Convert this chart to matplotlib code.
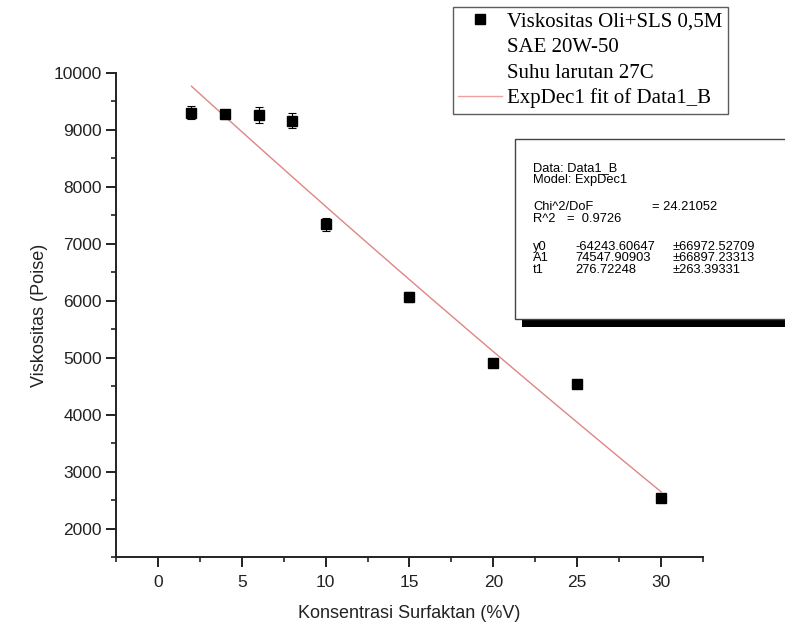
import numpy as np
import matplotlib.pyplot as plt
from matplotlib.lines import Line2D
from matplotlib.patches import Rectangle
from matplotlib.ticker import MultipleLocator

# data
konsentrasi = [2, 4, 6, 8, 10, 15, 20, 25, 30]
viskositas = [9305, 9275, 9265, 9165, 7340, 6070, 4910, 4535, 2540]
galat = [110, 80, 140, 130, 110, 90, 50, 70, 50]

# ExpDec1 fit parameters shown in the box
y0 = -64243.60647
A1 = 74547.90903
t1 = 276.72248
fit_x = np.linspace(min(konsentrasi), max(konsentrasi), 100)
fit_y = y0 + A1 * np.exp(-fit_x / t1)

W, H = 785, 630
fig = plt.figure(figsize=(W / 100, H / 100), dpi=100)
ax = fig.add_axes([116 / W, 1 - 557 / H, 587 / W, 484 / H])

ax.plot(fit_x, fit_y, color="#e08585", lw=1.0, zorder=2)
ax.errorbar(konsentrasi, viskositas, yerr=galat, fmt="s", color="black",
            ms=7.5, elinewidth=0.8, capsize=3, capthick=0.8, zorder=3)

ax.set_xlim(-2.5, 32.5)
ax.set_ylim(1500, 10000)
ax.xaxis.set_major_locator(MultipleLocator(5))
ax.xaxis.set_minor_locator(MultipleLocator(2.5))
ax.yaxis.set_major_locator(MultipleLocator(1000))
ax.yaxis.set_minor_locator(MultipleLocator(500))
ax.spines["top"].set_visible(False)
ax.spines["right"].set_visible(False)
for s in ("left", "bottom"):
    ax.spines[s].set_linewidth(1.4)
    ax.spines[s].set_color("#222222")
ax.tick_params(which="major", direction="out", length=7, width=1.4,
               labelsize=12.5, colors="#222222")
ax.tick_params(axis="x", which="major", pad=6)
ax.tick_params(axis="y", which="major", pad=3)
ax.tick_params(which="minor", direction="out", length=3.5, width=1.2, colors="#222222")
for lab in ax.get_xticklabels() + ax.get_yticklabels():
    lab.set_fontfamily("Liberation Sans")

ax.set_xlabel("Konsentrasi Surfaktan (%V)", fontsize=13, family="Liberation Sans",
              color="#222222", labelpad=11)
ax.set_ylabel("Viskositas (Poise)", fontsize=13, family="Liberation Sans",
              color="#222222", labelpad=4)

# legend
handles = [
    Line2D([], [], marker="s", color="black", ls="none", ms=7.5),
    Line2D([], [], ls="none"),
    Line2D([], [], ls="none"),
    Line2D([], [], color="#f0a0a0", lw=1.0),
]
labels = ["Viskositas Oli+SLS 0,5M", "SAE 20W-50", "Suhu larutan 27C",
          "ExpDec1 fit of Data1_B"]
leg = fig.legend(handles, labels, loc="upper left",
                 bbox_to_anchor=(453 / W, 1 - 7 / H), bbox_transform=fig.transFigure,
                 borderaxespad=0, fancybox=False, frameon=True, handlelength=2.1,
                 handletextpad=0.25, borderpad=0.25, labelspacing=0.28,
                 prop={"family": "Liberation Serif", "size": 15})
leg.get_frame().set_edgecolor("#333333")
leg.get_frame().set_linewidth(1.0)

# fit result box with shadow
fig.add_artist(Rectangle((522 / W, 1 - 327 / H), (W - 522 + 20) / W, 10 / H,
                         transform=fig.transFigure, facecolor="black",
                         edgecolor="none", zorder=4))
fig.add_artist(Rectangle((515 / W, 1 - 319 / H), (W - 515 + 20) / W, 180 / H,
                         transform=fig.transFigure, facecolor="white",
                         edgecolor="#444444", lw=1.0, zorder=5))

fs = 9.3
info_left = [
    (168, "Data: Data1_B"),
    (180, "Model: ExpDec1"),
    (207, "Chi^2/DoF"),
    (219, "R^2"),
    (247, "y0"),
    (258, "A1"),
    (270, "t1"),
]
for py, txt in info_left:
    fig.text(533 / W, 1 - py / H, txt, fontsize=fs, family="Liberation Sans",
             va="center", ha="left", zorder=6)
fig.text(652 / W, 1 - 207 / H, "= 24.21052", fontsize=fs, family="Liberation Sans",
         va="center", zorder=6)
fig.text(567 / W, 1 - 219 / H, "=  0.9726", fontsize=fs, family="Liberation Sans",
         va="center", zorder=6)
params = [(247, "-64243.60647", "\u00b166972.52709"),
          (258, "74547.90903", "\u00b166897.23313"),
          (270, "276.72248", "\u00b1263.39331")]
for py, val, err in params:
    fig.text(575 / W, 1 - py / H, val, fontsize=fs, family="Liberation Sans",
             va="center", zorder=6)
    fig.text(673 / W, 1 - py / H, err, fontsize=fs, family="Liberation Sans",
             va="center", zorder=6)

fig.savefig("out.png", dpi=100)
